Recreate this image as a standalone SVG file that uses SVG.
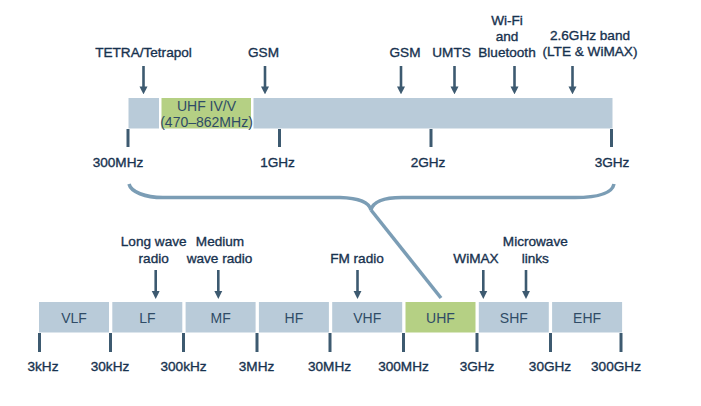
<svg xmlns="http://www.w3.org/2000/svg" width="701" height="406" viewBox="0 0 701 406">
<style>
  .lbl { font-family: "Liberation Sans", Arial, sans-serif; font-size: 13.6px; fill: #17324f; stroke: #17324f; stroke-width: 0.35; text-anchor: middle; }
  .box { fill: #b9cbd9; }
  .hi { fill: #b5d084; }
  .btxt { font-family: "Liberation Sans", Arial, sans-serif; font-size: 14px; fill: #2f4b66; text-anchor: middle; }
  .tick { stroke: #3d5a70; stroke-width: 3; fill: none; }
  .arr { stroke: #3d5a70; stroke-width: 2.6; fill: none; marker-end: url(#ah); }
  .brace { stroke: #7b9db5; stroke-width: 3.5; fill: none; }
</style>
<defs>
  <marker id="ah" viewBox="0 0 10 10" refX="2" refY="5" markerWidth="8" markerHeight="9.5" markerUnits="userSpaceOnUse" orient="auto">
    <path d="M0,0 L10,5 L0,10 z" fill="#3d5a70"/>
  </marker>
</defs>

<!-- top zoomed band -->
<g id="top-bar">
  <rect class="box" x="128.5" y="98" width="30.5" height="30.5"/>
  <rect class="hi" x="161.5" y="98" width="89.5" height="30.5"/>
  <text class="btxt" x="206.5" y="111">UHF IV/V</text>
  <text class="btxt" x="206.5" y="126.5">(470–862MHz)</text>
  <rect class="box" x="253.5" y="98" width="359" height="30.5"/>
</g>

<g id="top-scale">
  <line class="tick" x1="128" y1="129" x2="128" y2="147"/>
  <line class="tick" x1="279.5" y1="129" x2="279.5" y2="147"/>
  <line class="tick" x1="431" y1="129" x2="431" y2="147"/>
  <line class="tick" x1="611.5" y1="129" x2="611.5" y2="147"/>
  <text class="lbl" x="118" y="167">300MHz</text>
  <text class="lbl" x="277.5" y="167">1GHz</text>
  <text class="lbl" x="428" y="167">2GHz</text>
  <text class="lbl" x="612" y="167">3GHz</text>
</g>

<g id="top-labels">
  <text class="lbl" x="143.5" y="57">TETRA/Tetrapol</text>
  <text class="lbl" x="263.5" y="57">GSM</text>
  <text class="lbl" x="405" y="57">GSM</text>
  <text class="lbl" x="451.5" y="57">UMTS</text>
  <text class="lbl" x="507" y="24.5">Wi-Fi</text>
  <text class="lbl" x="507" y="41">and</text>
  <text class="lbl" x="507" y="57">Bluetooth</text>
  <text class="lbl" x="590" y="40">2.6GHz band</text>
  <text class="lbl" x="590" y="56">(LTE &amp; WiMAX)</text>
</g>

<!-- bottom spectrum -->
<g id="bands">
  <rect class="box" x="39" y="302" width="70" height="30.5"/>
  <text class="btxt" x="74" y="322.5">VLF</text>
  <rect class="box" x="112.3" y="302" width="70" height="30.5"/>
  <text class="btxt" x="147.3" y="322.5">LF</text>
  <rect class="box" x="185.6" y="302" width="70" height="30.5"/>
  <text class="btxt" x="220.6" y="322.5">MF</text>
  <rect class="box" x="258.9" y="302" width="70" height="30.5"/>
  <text class="btxt" x="293.9" y="322.5">HF</text>
  <rect class="box" x="332.2" y="302" width="70" height="30.5"/>
  <text class="btxt" x="367.2" y="322.5">VHF</text>
  <rect class="hi" x="405.5" y="302" width="70" height="30.5"/>
  <text class="btxt" x="440.5" y="322.5">UHF</text>
  <rect class="box" x="478.8" y="302" width="70" height="30.5"/>
  <text class="btxt" x="513.8" y="322.5">SHF</text>
  <rect class="box" x="552.1" y="302" width="70" height="30.5"/>
  <text class="btxt" x="587.1" y="322.5">EHF</text>
</g>

<g id="bottom-scale">
  <line class="tick" x1="39.5" y1="333" x2="39.5" y2="352"/>
  <line class="tick" x1="110.5" y1="333" x2="110.5" y2="352"/>
  <line class="tick" x1="183.5" y1="333" x2="183.5" y2="352"/>
  <line class="tick" x1="257" y1="333" x2="257" y2="352"/>
  <line class="tick" x1="330" y1="333" x2="330" y2="352"/>
  <line class="tick" x1="403.5" y1="333" x2="403.5" y2="352"/>
  <line class="tick" x1="477" y1="333" x2="477" y2="352"/>
  <line class="tick" x1="550.5" y1="333" x2="550.5" y2="352"/>
  <line class="tick" x1="621" y1="333" x2="621" y2="352"/>
  <text class="lbl" x="43" y="371">3kHz</text>
  <text class="lbl" x="110" y="371">30kHz</text>
  <text class="lbl" x="183.5" y="371">300kHz</text>
  <text class="lbl" x="256.5" y="371">3MHz</text>
  <text class="lbl" x="329.5" y="371">30MHz</text>
  <text class="lbl" x="403.5" y="371">300MHz</text>
  <text class="lbl" x="477" y="371">3GHz</text>
  <text class="lbl" x="550" y="371">30GHz</text>
  <text class="lbl" x="616" y="371">300GHz</text>
</g>

<g id="bottom-labels">
  <text class="lbl" x="153.7" y="246">Long wave</text>
  <text class="lbl" x="153.7" y="262.5">radio</text>
  <text class="lbl" x="220" y="246">Medium</text>
  <text class="lbl" x="219.5" y="262.5">wave radio</text>
  <text class="lbl" x="357" y="262.5">FM radio</text>
  <text class="lbl" x="476" y="262.5">WiMAX</text>
  <text class="lbl" x="535.3" y="246">Microwave</text>
  <text class="lbl" x="535.3" y="262.5">links</text>
</g>

<g id="connectors">
  <line class="arr" x1="143.5" y1="66" x2="143.5" y2="88"/>
  <line class="arr" x1="265" y1="66" x2="265" y2="88"/>
  <line class="arr" x1="401" y1="66" x2="401" y2="88"/>
  <line class="arr" x1="454.5" y1="66" x2="454.5" y2="88"/>
  <line class="arr" x1="514.5" y1="66" x2="514.5" y2="88"/>
  <line class="arr" x1="572.5" y1="66" x2="572.5" y2="88"/>
  <line class="arr" x1="155.7" y1="270" x2="155.7" y2="292.5"/>
  <line class="arr" x1="218.3" y1="270" x2="218.3" y2="292.5"/>
  <line class="arr" x1="357.5" y1="270" x2="357.5" y2="292.5"/>
  <line class="arr" x1="483.3" y1="270" x2="483.3" y2="292.5"/>
  <line class="arr" x1="526" y1="270" x2="526" y2="292.5"/>
  <path class="brace" d="M129,184 C131,192 145,197.5 163,197.5 L340,197.5 C358,198 369,202 371,210 C373,202 384,197.5 402,197.5 L575,197.5 C598,197.5 612,194 614,184"/>
  <line class="brace" x1="371" y1="210" x2="441" y2="298"/>
</g>
</svg>
